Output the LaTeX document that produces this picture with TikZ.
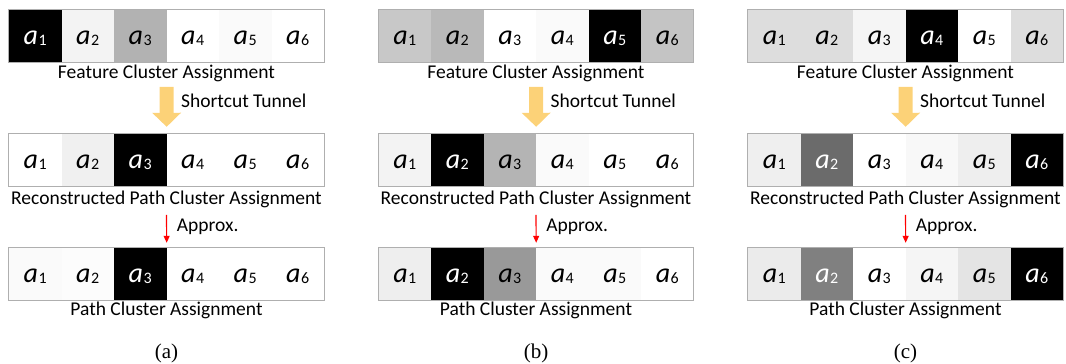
\documentclass[tikz,border=0pt]{standalone}
\usepackage{fontspec}
\setmainfont{Liberation Serif}
\newfontfamily\carl{Carlito}
\usetikzlibrary{arrows.meta}
\definecolor{tunnel}{RGB}{252,210,120}
\definecolor{baredge}{RGB}{175,175,175}
\tikzset{
  cellbox/.style={inner sep=0pt, minimum width=52.5pt, minimum height=52.5pt,
    text height=17.5pt, text depth=0pt},
  barline/.style={draw=baredge, line width=0.8pt},
  lbl/.style={inner sep=0pt, anchor=base, font=\carl\fontsize{19.5}{22}\selectfont},
  sidelbl/.style={inner sep=0pt, anchor=base west, font=\carl\fontsize{19.5}{22}\selectfont},
  caplbl/.style={inner sep=0pt, anchor=base, font=\fontsize{21}{23}\selectfont},
  bigarrow/.style={draw=tunnel, line width=14pt, -{Triangle[width=28pt,length=14pt]},
    shorten <=4.6pt, shorten >=6.3pt},
  redarrow/.style={draw=red, line width=1.2pt, -{Triangle[width=6pt,length=7pt]},
    shorten <=7.3pt, shorten >=4.3pt}
}
\newcommand\cellname[1]{{\carl\fontsize{28}{28}\selectfont\itshape a}\kern0.5pt{\carl\fontsize{16}{16}\selectfont\raisebox{-1pt}{#1}}}
\newcommand\barrow[4]{%
  \foreach \g/\t [count=\i] in {#4} {
    \node[cellbox, fill={rgb,255:red,\g;green,\g;blue,\g}, text=\t] (#1-\i)
      at ({#2+52.5*\i-26.25},{#3+26.25}) {\cellname{\i}};
  }
  \draw[barline] (#1-1.north west) rectangle (#1-6.south east);
}
\newcommand\panel[6]{%
  \pgfmathsetmacro\cx{#2+157.5}
  \barrow{#1r1}{#2}{9.3}{#3}
  \node[lbl] (#1f) at (\cx,78.7) {Feature Cluster Assignment};
  \barrow{#1r2}{#2}{133.3}{#4}
  \node[lbl] (#1r) at (\cx,204) {Reconstructed Path Cluster Assignment};
  \barrow{#1r3}{#2}{247.3}{#5}
  \node[lbl] (#1p) at (\cx,315) {Path Cluster Assignment};
  \draw[bigarrow] (#1f.south) -- (#1r2-3.north east);
  \node[sidelbl] (#1s) at (\cx+14.5,107.7) {Shortcut Tunnel};
  \draw[redarrow] (#1r.south) -- (#1r3-3.north east);
  \node[sidelbl] (#1a) at (\cx+10.2,231.7) {Approx.};
  \node[caplbl] (#1c) at (\cx,358) {#6};
}
\begin{document}
\begin{tikzpicture}[x=1pt,y=-1pt]
\useasboundingbox (0,0) rectangle (1066,364);
\panel{A}{9}
  {0/white,243/black,178/black,255/black,250/black,255/black}
  {255/black,240/black,0/white,255/black,255/black,255/black}
  {250/black,252/black,0/white,255/black,255/black,255/black}
  {(a)}
\panel{B}{378.5}
  {200/black,185/black,255/black,250/black,0/white,196/black}
  {243/black,0/white,180/black,250/black,255/black,255/black}
  {238/black,0/white,153/black,250/black,250/black,255/black}
  {(b)}
\panel{C}{748}
  {221/black,221/black,245/black,0/white,255/black,221/black}
  {239/black,107/white,255/black,248/black,238/black,0/white}
  {235/black,128/white,255/black,245/black,228/black,0/white}
  {(c)}
\end{tikzpicture}
\end{document}
